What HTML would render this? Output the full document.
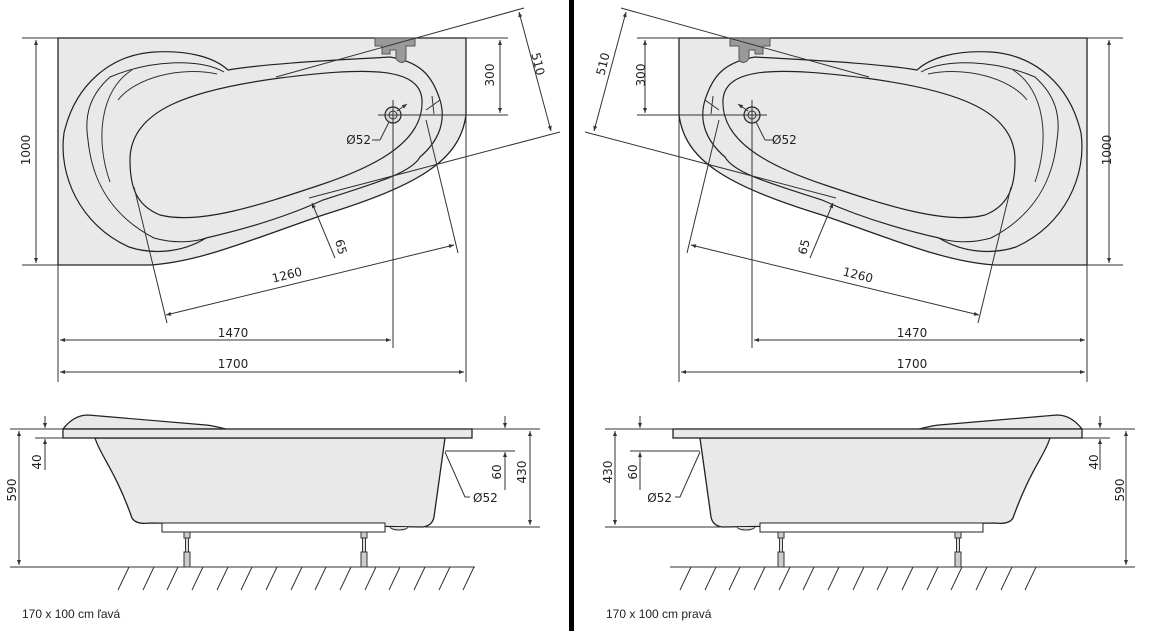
<!DOCTYPE html>
<html><head><meta charset="utf-8"><style>
html,body{margin:0;padding:0;background:#fff;width:1150px;height:631px;overflow:hidden}
svg text{font-family:"DejaVu Sans","Liberation Sans",sans-serif;font-size:12px;fill:#222}
</style></head><body>
<svg width="1150" height="631" viewBox="0 0 1150 631" xmlns="http://www.w3.org/2000/svg">
<defs>
<marker id="a" viewBox="0 0 10 10" refX="10" refY="5" markerWidth="7" markerHeight="5" orient="auto-start-reverse"><path d="M0,1 L10,5 L0,9 Z" fill="#333"/></marker>
<g id="half" fill="none" stroke="#333" stroke-width="1">
 <path d="M58,38 H466 V115 C460,160 420,185 323,215 C250,240 200,262 150,265 H58 Z" fill="#e9e9e9" stroke="#222" stroke-width="1.3"/>
 <path d="M228,70 C215,58 190,50 154,52 C110,55 75,85 64,133 C58,175 80,225 129,247 C150,254 180,254 206,238 C250,228 290,215 323,200 C380,182 412,172 420,157 C440,140 446,120 440,100 C432,75 420,62 390,57 C340,60 270,63 228,70 Z" stroke="#222" stroke-width="1.2"/>
 <path d="M224,72 C200,58 150,60 110,77 C90,95 84,115 88,140 C92,180 110,215 154,238 C175,244 195,242 206,238" stroke="#222"/>
 <path d="M217,74 C180,66 135,78 118,100"/>
 <path d="M132,70 C100,90 95,140 110,182"/>
 <path d="M130,160 C130,110 190,90 280,78 C360,68 420,65 422,100 C424,140 380,165 320,185 C260,205 200,225 160,215 C135,205 130,185 130,160 Z" stroke="#222" stroke-width="1.2"/>
 <path d="M375,38 H415 V46 H406 V58 C406,64 398,64 396,58 V50 H390 V54 H382 V46 H375 Z" fill="#9a9a9a" stroke="#555"/>
 <circle cx="393" cy="115" r="8" fill="#ddd" stroke="#222" stroke-width="1.2"/>
 <circle cx="393" cy="115" r="4"/>
 <line x1="378" y1="115" x2="508" y2="115"/>
 <line x1="393" y1="100" x2="393" y2="348"/>
 <line x1="380" y1="140" x2="389" y2="122"/>
 <line x1="372" y1="140" x2="380" y2="140"/>
 <line x1="397" y1="111" x2="407" y2="104" marker-end="url(#a)"/>
 <line x1="426" y1="110" x2="440" y2="100"/><line x1="432" y1="96" x2="434" y2="114"/>
 <line x1="22" y1="38" x2="58" y2="38"/><line x1="22" y1="265" x2="58" y2="265"/>
 <line x1="36" y1="40" x2="36" y2="263" marker-start="url(#a)" marker-end="url(#a)"/>
 <line x1="466" y1="38" x2="508" y2="38"/>
 <line x1="500" y1="40" x2="500" y2="113" marker-start="url(#a)" marker-end="url(#a)"/>
 <line x1="276" y1="77" x2="524" y2="8"/><line x1="309" y1="198" x2="560" y2="132"/>
 <line x1="519" y1="12" x2="551" y2="131" marker-start="url(#a)" marker-end="url(#a)"/>
 <line x1="134" y1="187" x2="167" y2="323"/><line x1="426" y1="120" x2="458" y2="253"/>
 <line x1="166" y1="315" x2="454" y2="245" marker-start="url(#a)" marker-end="url(#a)"/>
 <line x1="312" y1="203" x2="335" y2="258" marker-start="url(#a)"/>
 <line x1="58" y1="265" x2="58" y2="382"/><line x1="466" y1="115" x2="466" y2="382"/>
 <line x1="60" y1="340" x2="391" y2="340" marker-start="url(#a)" marker-end="url(#a)"/>
 <line x1="60" y1="372" x2="464" y2="372" marker-start="url(#a)" marker-end="url(#a)"/>
 <path d="M95,438 C100,455 115,470 132,518 C135,523 142,524 150,523 L423,527 C430,526 433,522 434,517 L445,438 Z" fill="#e9e9e9" stroke="#222" stroke-width="1.3"/>
 <path d="M63,429 C70,420 78,415 88,415 L206,425 C215,426 222,428 226,429 Z" fill="#e9e9e9" stroke="#222" stroke-width="1.2"/>
 <rect x="63" y="429" width="409" height="9" fill="#e9e9e9" stroke="#222" stroke-width="1.3"/>
 <rect x="162" y="523" width="223" height="9" fill="#fff" stroke="#222"/>
 <path d="M390,527 C392,531 406,531 408,527" fill="#ddd"/>
 <rect x="184" y="532" width="6" height="6" fill="#ccc"/><rect x="185.5" y="538" width="3" height="14" fill="#ddd"/><rect x="184" y="552" width="6" height="15" fill="#ccc"/>
 <rect x="361" y="532" width="6" height="6" fill="#ccc"/><rect x="362.5" y="538" width="3" height="14" fill="#ddd"/><rect x="361" y="552" width="6" height="15" fill="#ccc"/>
 <line x1="10" y1="567" x2="475" y2="567"/>
 <line x1="10" y1="429" x2="63" y2="429"/><line x1="35" y1="438" x2="63" y2="438"/>
 <line x1="19" y1="431" x2="19" y2="565" marker-start="url(#a)" marker-end="url(#a)"/>
 <line x1="45" y1="416" x2="45" y2="428" marker-end="url(#a)"/>
 <line x1="45" y1="470" x2="45" y2="439" marker-end="url(#a)"/>
 <line x1="472" y1="429" x2="540" y2="429"/><line x1="445" y1="451" x2="515" y2="451"/><line x1="425" y1="527" x2="540" y2="527"/>
 <line x1="505" y1="416" x2="505" y2="428" marker-end="url(#a)"/>
 <line x1="505" y1="490" x2="505" y2="452" marker-end="url(#a)"/>
 <line x1="530" y1="431" x2="530" y2="525" marker-start="url(#a)" marker-end="url(#a)"/>
 <path d="M445,452 L465,497 H470"/>
</g>
<path id="hatch" fill="none" stroke="#333" stroke-width="1" d="M129,567 L118,590 M154,567 L143,590 M178,567 L167,590 M203,567 L192,590 M228,567 L217,590 M252,567 L241,590 M277,567 L266,590 M302,567 L291,590 M326,567 L315,590 M351,567 L340,590 M376,567 L365,590 M400,567 L389,590 M425,567 L414,590 M450,567 L439,590 M474,567 L463,590"/>
</defs>
<use href="#half"/>
<use href="#half" transform="translate(1145,0) scale(-1,1)"/>
<use href="#hatch"/>
<use href="#hatch" transform="translate(562,0)"/>
<rect x="569" y="0" width="5" height="631" fill="#000"/>

<text x="30" y="150" transform="rotate(-90 30 150)" text-anchor="middle">1000</text>
<text x="494" y="75" transform="rotate(-90 494 75)" text-anchor="middle">300</text>
<text x="534" y="65" transform="rotate(76 534 65)" text-anchor="middle">510</text>
<text x="371" y="144" text-anchor="end">Ø52</text>
<text x="337" y="248" transform="rotate(75 337 248)" text-anchor="middle">65</text>
<text x="288" y="279" transform="rotate(-14 288 279)" text-anchor="middle">1260</text>
<text x="233" y="337" text-anchor="middle">1470</text>
<text x="233" y="368" text-anchor="middle">1700</text>
<text x="16" y="490" transform="rotate(-90 16 490)" text-anchor="middle">590</text>
<text x="41" y="462" transform="rotate(-90 41 462)" text-anchor="middle">40</text>
<text x="501" y="472" transform="rotate(-90 501 472)" text-anchor="middle">60</text>
<text x="526" y="472" transform="rotate(-90 526 472)" text-anchor="middle">430</text>
<text x="473" y="502">Ø52</text>
<text x="22" y="618" style="font-size:12px;font-family:'Liberation Sans',sans-serif">170 x 100 cm ľavá</text>

<text x="1111" y="150" transform="rotate(-90 1111 150)" text-anchor="middle">1000</text>
<text x="645" y="75" transform="rotate(-90 645 75)" text-anchor="middle">300</text>
<text x="607" y="65" transform="rotate(-76 607 65)" text-anchor="middle">510</text>
<text x="772" y="144">Ø52</text>
<text x="808" y="248" transform="rotate(-75 808 248)" text-anchor="middle">65</text>
<text x="857" y="279" transform="rotate(14 857 279)" text-anchor="middle">1260</text>
<text x="912" y="337" text-anchor="middle">1470</text>
<text x="912" y="368" text-anchor="middle">1700</text>
<text x="1124" y="490" transform="rotate(-90 1124 490)" text-anchor="middle">590</text>
<text x="1098" y="462" transform="rotate(-90 1098 462)" text-anchor="middle">40</text>
<text x="637" y="472" transform="rotate(-90 637 472)" text-anchor="middle">60</text>
<text x="612" y="472" transform="rotate(-90 612 472)" text-anchor="middle">430</text>
<text x="672" y="502" text-anchor="end">Ø52</text>
<text x="606" y="618" style="font-size:12px;font-family:'Liberation Sans',sans-serif">170 x 100 cm pravá</text>
</svg>
</body></html>
